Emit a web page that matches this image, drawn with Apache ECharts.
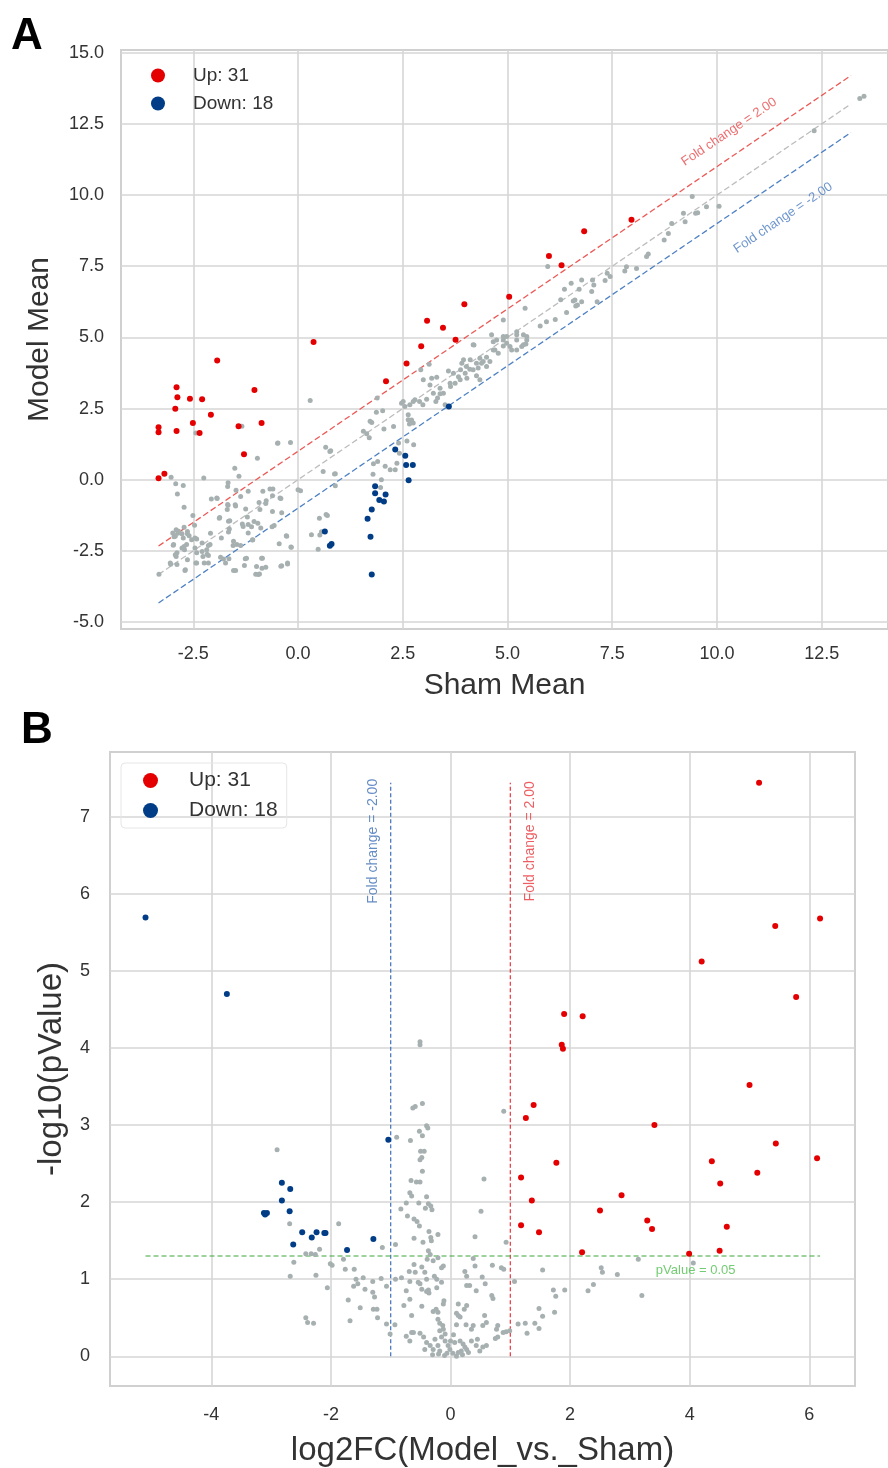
<!DOCTYPE html>
<html><head><meta charset="utf-8">
<script src="https://cdn.jsdelivr.net/npm/echarts@6/dist/echarts.min.js"></script>
<style>html,body{margin:0;padding:0;background:#fff}#c{width:888px;height:1468px}</style>
</head><body><div id="c"></div>
<script>
// ---------- Panel A: Sham Mean (x) vs Model Mean (y) ----------
const A_X_TICKS = [-2.5, 0, 2.5, 5, 7.5, 10, 12.5];
const A_Y_TICKS = [-5, -2.5, 0, 2.5, 5, 7.5, 10, 12.5, 15];
const A_UP = [[0.37,4.84],[-1.93,4.19],[-2.90,3.25],[-2.88,2.90],[-2.58,2.84],[-2.29,2.83],[-1.04,3.15],[-2.93,2.49],[-2.08,2.28],[-2.51,1.99],[-1.42,1.88],[-0.87,1.99],[-3.33,1.84],[-3.33,1.67],[-2.90,1.71],[-2.35,1.64],[-1.29,0.89],[-3.33,0.05],[-3.19,0.21],[2.59,4.08],[2.94,4.69],[2.10,3.46],[7.96,9.13],[6.83,8.73],[5.99,7.86],[6.29,7.53],[5.04,6.43],[3.97,6.16],[3.46,5.34],[3.76,4.92],[3.08,5.58]];
const A_DOWN = [[2.32,1.06],[2.56,0.84],[2.58,0.52],[2.74,0.52],[2.64,-0.02],[1.84,-0.23],[1.84,-0.48],[2.09,-0.52],[1.94,-0.71],[2.05,-0.77],[1.76,-1.05],[1.66,-1.37],[1.73,-2.0],[1.76,-3.33],[0.64,-1.82],[0.80,-2.26],[0.76,-2.32],[3.60,2.57]];
const A_NS = [[0.29,2.78],[-2.44,1.64],[-1.34,1.88],[-0.48,1.29],[-0.18,1.31],[-0.97,0.75],[0.66,1.14],[0.78,1.02],[-1.51,0.40],[-1.41,0.12],[-2.25,0.06],[-3.03,0.09],[-2.92,-0.14],[-2.74,-0.20],[-1.67,-0.11],[0.60,0.29],[0.89,0.21],[0,-0.35],[0.06,-0.39],[-0.60,-0.33],[-0.84,-0.41],[-1.19,-0.41],[-2.88,-0.50],[-2.07,-0.68],[-1.93,-0.66],[-1.37,-0.59],[-0.76,-0.74],[-0.93,-0.80],[-0.41,-0.66],[-1.67,-0.90],[-1.49,-0.92],[-2.72,-0.97],[-1.25,-1.03],[-0.61,-1.12],[-2.51,-1.26],[-1.87,-1.33],[-1.63,-1.44],[-1.05,-1.47],[-2.47,-1.60],[-2.72,-1.67],[-1.31,-1.64],[-1.19,-1.57],[-0.57,-1.61],[-2.91,-1.76],[-2.87,-1.88],[-2.96,-2.0],[-2.64,-1.82],[-2.60,-1.97],[-2.42,-2.08],[-2.09,-1.88],[-1.66,-1.84],[-1.83,-2.05],[-1.09,-2.12],[-0.28,-1.97],[0.56,-1.83],[-2.98,-2.30],[-2.72,-2.35],[-2.29,-2.52],[-2.14,-2.31],[-1.55,-2.31],[-1.37,-2.31],[-0.45,-2.25],[-0.16,-2.37],[0.48,-2.44],[-2.93,-2.64],[-2.91,-2.70],[-2.27,-2.70],[-1.85,-2.72],[-1.65,-2.78],[-1.73,-2.93],[-1.78,-2.79],[-2.17,-2.62],[-1.23,-2.76],[-0.85,-2.76],[-3.04,-2.97],[-2.44,-2.93],[-2.14,-2.93],[-0.99,-3.05],[-0.77,-3.08],[-0.39,-3.02],[-0.25,-2.96],[-1.54,-3.19],[-1.49,-3.19],[-2.70,-3.19],[-3.32,-3.32],[-1.01,-3.32],[-0.92,-3.31],
[-2.99,-1.87],[-2.93,-1.99],[-2.85,-1.81],[-2.77,-1.90],[-2.74,-2.05],[-2.64,-1.90],[-2.54,-2.11],[-2.46,-2.05],[-2.66,-2.28],[-2.77,-2.40],[-2.97,-2.28],[-2.89,-2.57],[-2.71,-2.46],[-2.46,-2.40],[-2.64,-2.81],[-2.42,-2.57],[-2.29,-2.22],[-2.18,-2.46],[-2.14,-2.66],[-2.10,-2.28],[-2.24,-2.93],[-2.42,-2.93],[-2.69,-3.16],[-2.89,-2.98],[-3.05,-2.93],
[-1.94,-0.64],[-1.68,-0.87],[-1.69,-1.05],[-1.88,-1.35],[-1.66,-1.46],[-1.64,-1.73],[-1.54,-2.16],[-1.46,-2.28],[-1.26,-2.78],[-1.28,-3.01],[-0.95,-3.33],[-0.86,-3.11],[-0.87,-2.76],[-0.67,-0.33],[-0.61,-0.56],[-0.43,-0.64],[-0.77,-0.84],[-0.39,-1.16],[-0.62,-1.65],[-0.96,-1.53],[-0.89,-1.70],[-0.91,-1.05],[-1.19,-1.87],[-1.08,-2.11],[-1.11,-1.65],[-1.33,-1.56],[-1.50,-0.88],[-1.21,-1.31],[-0.25,-2.93],[-0.41,-3.04],[-0.17,-2.36],[-0.27,-1.99],[-0.49,1.28],[-1.68,-0.24],[-1.48,-0.37],
[0.89,-0.21],[0.67,-1.22],[0.70,-1.26],[0.51,-1.35],[0.32,-1.93],[0.52,-1.94],[0.76,0.99],[0.87,0.20],[1.56,1.70],[1.64,1.61],[1.70,1.47],[1.76,2.01],[1.72,2.05],[1.87,2.37],[2.02,2.42],[1.89,2.87],[2.05,1.78],[2.28,1.87],[2.40,1.29],[2.60,1.36],[2.76,1.23],[1.80,0.56],[1.90,0.64],[2.08,0.47],[2.20,0.35],[2.32,0.35],[2.36,0.58],[1.79,0.19],[1.99,0.00],[1.97,-0.27],[2.42,0.93],
[2.47,2.69],[2.55,2.57],[2.67,2.63],[2.75,2.75],[2.63,2.28],[2.71,2.10],[2.66,1.96],[2.90,2.75],[2.98,2.63],[3.07,2.83],[2.93,3.86],[2.99,3.51],[3.13,4.06],[3.23,3.04],[3.33,2.87],[3.39,3.02],[3.29,2.75],[3.31,3.60],[3.59,3.82],[3.51,2.63],[3.64,3.27],[3.75,3.39],[3.83,3.62],[3.88,3.86],[3.95,4.21],[4.03,3.56],[4.10,3.88],[4.18,3.86],[4.26,3.65],[4.30,3.92],[4.20,4.73],[4.38,4.09],[4.50,4.30],[4.66,4.85],[4.70,4.56],[4.74,4.91],[4.90,4.70],[4.78,4.44],[4.98,4.79],[5.10,4.56],[5.22,4.91],[5.34,4.68],[5.22,5.20],[5.38,5.09],[5.46,4.91],[4.90,5.61],[5.42,6.02],
[2.51,2.75],[2.79,2.81],[2.63,2.11],[2.75,1.99],[3.19,3.56],[3.15,3.33],[3.39,3.21],[3.47,3.04],[3.63,3.39],[3.71,3.74],[3.87,3.51],[3.99,3.74],[3.91,4.09],[4.18,4.74],[4.02,3.98],[4.34,3.51],[4.26,4.09],[4.42,4.15],[4.50,3.98],[4.66,4.56],[4.90,4.91],[4.98,5.03],[5.06,4.68],[5.22,5.09],[5.38,4.74],[5.46,5.03],
[4.62,5.09],[4.90,5.03],[5.44,4.77],[5.22,4.56],[5.78,5.40],[5.93,5.55],[6.14,5.63],[6.41,5.87],[6.63,6.10],[6.77,6.25],[6.61,6.31],[4.11,4.21],[4.34,4.27],[4.58,4.15],
[13.41,13.39],[13.51,13.47],[12.32,12.26],[9.41,9.95],[9.49,9.36],[9.54,9.38],[9.75,9.59],[10.05,9.61],[9.20,9.36],[9.24,9.06],[8.92,9.00],[8.84,8.65],[8.74,8.42],[8.32,7.84],[8.36,7.93],[8.08,7.42],[7.80,7.33],[7.84,7.48],[7.38,7.25],[7.45,7.14],[7.33,7.00],[5.96,7.49],[7.03,7.02],[7.06,6.84],[7.01,6.61],[6.77,7.02],[6.71,6.69],[6.52,6.90],[6.36,6.69],[6.57,6.28],[6.67,6.14],[6.27,6.32],[7.14,6.25]];
const A_LINE_X = [-3.33, 13.2];           // extent of the reference lines (Sham Mean)
const A_LINE_OFFSETS = [1, 0, -1];        // log2(fold change) = 1, 0, -1
const A_LABELS = [["Fold change = 2.00", 10.29, 12.22], ["Fold change = -2.00", 11.58, 9.20]];

// ---------- Panel B: volcano ----------
const B_X_TICKS = [-4, -2, 0, 2, 4, 6];
const B_Y_TICKS = [0, 1, 2, 3, 4, 5, 6, 7];
const B_UP = [[5.16,7.44],[6.18,5.68],[5.43,5.58],[4.20,5.12],[5.78,4.66],[1.90,4.44],[2.21,4.41],[1.86,4.04],[1.88,3.99],[5.0,3.52],[1.39,3.26],[1.26,3.09],[3.41,3.0],[5.44,2.76],[6.13,2.57],[4.37,2.53],[1.77,2.51],[5.13,2.38],[1.18,2.32],[4.51,2.24],[2.86,2.09],[1.36,2.02],[2.50,1.89],[3.29,1.76],[3.37,1.65],[4.62,1.68],[1.18,1.70],[1.48,1.61],[2.20,1.35],[3.99,1.33],[4.50,1.37]];
const B_DOWN = [[-5.10,5.69],[-3.74,4.70],[-1.04,2.81],[-2.82,2.25],[-2.68,2.17],[-2.82,2.02],[-3.12,1.86],[-3.07,1.86],[-3.10,1.84],[-2.69,1.88],[-2.48,1.61],[-2.24,1.61],[-2.32,1.54],[-2.11,1.60],[-2.09,1.60],[-2.63,1.45],[-1.73,1.38],[-1.29,1.52]];
const B_NS = [[-0.51,4.08],[-0.51,4.04],[-0.63,3.22],[-0.59,3.24],[-0.47,3.28],[0.89,3.18],[-0.90,2.84],[-0.67,2.80],[-0.52,2.92],[-0.47,2.86],[-0.40,2.99],[-0.38,2.96],[-0.50,2.66],[-0.44,2.66],[-0.51,2.55],[-0.48,2.58],[-0.47,2.40],[-0.66,2.28],[-0.57,2.26],[-0.51,2.26],[0.56,2.30],[-0.68,2.12],[-0.65,2.08],[-0.40,2.07],[-0.74,1.99],[-0.53,1.99],[-0.37,1.98],[-0.33,1.95],[-0.31,1.90],[-0.83,1.91],[-0.42,1.92],[0.51,1.88],[-0.72,1.82],[-0.61,1.78],[-0.56,1.75],[-0.52,1.69],[-1.87,1.72],[-0.36,1.62],[-0.21,1.58],[-0.92,1.45],[-0.61,1.53],[-0.46,1.48],[-0.33,1.54],[-0.32,1.50],[0.41,1.55],[0.93,1.48],[-1.14,1.41],[-0.37,1.37],[-0.34,1.32],[-0.39,1.26],[-0.29,1.24],[-0.21,1.28],[-0.12,1.17],[-0.15,1.15],[0.38,1.27],[0.41,1.17],[0.70,1.18],[0.85,1.15],[0.89,1.13],[1.54,1.12],[-0.61,1.19],[-0.59,1.09],[-0.69,1.10],[-0.48,1.16],[-0.43,1.09],[0.24,1.10],[0.27,1.04],[0.53,1.03],[0.58,0.94],[1.07,0.97],
[-1.98,1.18],[-1.79,1.26],[-1.76,1.13],[-1.61,1.13],[-1.58,1.0],[-1.46,1.02],[-1.16,1.01],[-0.82,1.02],[-0.92,1.0],[-0.68,0.97],[-0.54,0.96],[-0.51,0.94],[-0.40,1.0],[-1.62,0.91],[-1.55,0.94],[-1.43,0.87],[-1.30,0.97],[-1.30,0.83],[-1.27,0.77],[-1.07,0.91],[-0.27,1.04],[-0.23,1.0],[-0.23,0.89],[-0.15,0.96],[-0.37,0.86],[-0.36,0.82],[-0.40,0.84],[0.27,0.92],[0.32,0.92],[0.43,0.85],[0.71,0.75],[0.69,0.79],[1.72,0.86],[1.91,0.86],[1.76,0.78],
[-0.74,0.85],[-0.48,0.87],[-0.68,0.74],[-0.11,0.72],[-0.12,0.68],[-0.24,0.61],[-0.21,0.57],[-0.29,0.58],[0.13,0.68],[0.23,0.61],[0.27,0.66],[-1.71,0.73],[-1.51,0.63],[-1.23,0.61],[-1.29,0.61],[-0.78,0.66],[-0.48,0.65],[-1.68,0.46],[-1.22,0.50],[-0.65,0.53],[-0.21,0.48],[-0.18,0.43],[-0.13,0.40],[-0.12,0.35],[-0.18,0.33],[-0.09,0.29],[0.10,0.56],[0.13,0.53],[0.16,0.51],[0.57,0.53],[0.60,0.44],[1.48,0.62],[1.54,0.52],[1.74,0.57],[1.48,0.36],[1.13,0.42],[1.25,0.43],[1.41,0.43],[1.28,0.30],
[0.38,0.40],[0.35,0.35],[0.26,0.41],[0.10,0.41],[0.54,0.40],[0.77,0.35],[0.79,0.40],[0.88,0.31],[0.93,0.32],[0.99,0.33],[0.75,0.23],[0.79,0.25],[-1.07,0.42],[-0.93,0.41],[-1.01,0.29],[-0.74,0.26],[-0.65,0.31],[-0.68,0.20],[-0.62,0.31],[-0.51,0.30],
[-0.40,0.18],[-0.34,0.14],[-0.43,0.09],[-0.29,0.09],[-0.21,0.14],[-0.18,0.07],[-0.26,0.22],[-0.09,0.20],[-0.04,0.14],[-0.06,0.04],[0.04,0.04],[-0.01,0.09],[0.07,0.18],[0.16,0.20],[0.21,0.16],[0.27,0.09],[0.18,0.07],[0.24,0.12],[0.13,0.05],[0.43,0.14],[0.54,0.12],[0.60,0.14],[0.49,0.07],[-0.30,0.02],[-0.20,0.03],[0.10,0.00],[0.20,0.02],[0.30,0.05],[-0.10,0.01],[0.00,0.20],[-0.15,0.25],[0.05,0.28],[0.35,0.20],[-0.45,0.25],[0.45,0.22],
[-2.90,2.68],[-2.69,1.72],[-2.19,1.39],[-2.42,1.33],[-2.33,1.33],[-2.26,1.32],[-2.62,1.22],[-2.68,1.04],[-2.25,1.05],[-2.06,0.89],[-2.42,0.50],[-2.39,0.44],[-2.29,0.43],[-2.01,1.20],
[3.14,1.26],[2.52,1.15],[2.54,1.09],[2.79,1.06],[2.39,0.93],[2.30,0.85],[3.20,0.79],[4.06,1.21]];
const B_FC_LINES = [-1, 1];              // log2(FC) thresholds
const B_P_LINE = -Math.log10(0.05);      // pValue = 0.05
const B_LABELS = [["Fold change = -2.00", -1.30, 6.68, '#3d6fb5'], ["Fold change = 2.00", 1.33, 6.68, '#e8343a']];
const B_P_LABEL = ["pValue = 0.05", 4.10, 1.12];

// ---------- styles ----------
const FONT = 'Liberation Sans, Arial, Helvetica, sans-serif';
const C_UP = '#e40000', C_DOWN = '#003d86', C_NS = '#a7b0b0';
const GRID_LINE = '#d6d6d6';

const bAll = [B_UP, B_DOWN, B_NS].flat();
const bYmin = Math.min(...bAll.map(p => p[1])), bYmax = Math.max(...bAll.map(p => p[1]));
const bXmin = Math.min(...bAll.map(p => p[0])), bXmax = Math.max(...bAll.map(p => p[0]));

function axisCommon(ticks, fmt, fs, margin) {
  return {
    type: 'value',
    axisLine: { show: false },
    axisTick: { show: false, customValues: ticks },
    axisLabel: { customValues: ticks, formatter: fmt, fontSize: fs, color: '#333', margin: margin, fontFamily: FONT },
    splitLine: { show: true, lineStyle: { color: GRID_LINE, width: 1.6 } },
    nameLocation: 'middle',
  };
}
const fmt1 = v => v.toFixed(1);
const fmt0 = v => String(Math.round(v));

const series = [];
function pts(name, xi, data, size, color, z) {
  return { type: 'scatter', name: name, xAxisIndex: xi, yAxisIndex: xi, data: data, symbolSize: size,
    itemStyle: { color: color, opacity: 1 }, z: z, silent: true };
}
// Panel A points
series.push(pts('ns', 0, A_NS, 5, C_NS, 3));
series.push(pts('Up: 31', 0, A_UP, 6, C_UP, 4));
series.push(pts('Down: 18', 0, A_DOWN, 6, C_DOWN, 4));
// Panel A reference lines
const A_LINE_COLORS = ['#ec5a57', '#bdbdbd', '#4f82c4'];
A_LINE_OFFSETS.forEach((off, i) => {
  series.push({ type: 'line', xAxisIndex: 0, yAxisIndex: 0, data: A_LINE_X.map(x => [x, x + off]), symbol: 'none', silent: true, z: 2,
    lineStyle: { color: A_LINE_COLORS[i], width: 1.3, type: [6, 3] } });
});
// Panel A line labels
A_LABELS.forEach((l, i) => {
  series.push({ type: 'scatter', xAxisIndex: 0, yAxisIndex: 0, data: [[l[1], l[2]]], symbolSize: 0, silent: true, z: 5,
    label: { show: true, position: 'inside', formatter: l[0], rotate: 34, fontSize: 13, fontFamily: FONT, color: i === 0 ? '#e8494a' : '#4a7cc0' } });
});
// Panel B points
series.push(pts('ns', 1, B_NS, 5, C_NS, 3));
series.push(pts('Up: 31', 1, B_UP, 6, C_UP, 4));
series.push(pts('Down: 18', 1, B_DOWN, 6, C_DOWN, 4));
// Panel B threshold lines
const B_FC_COLORS = ['#3d6fb5', '#e8343a'];
B_FC_LINES.forEach((x, i) => {
  series.push({ type: 'line', xAxisIndex: 1, yAxisIndex: 1, data: [[x, bYmin], [x, bYmax]], symbol: 'none', silent: true, z: 2,
    lineStyle: { color: B_FC_COLORS[i], width: 1.2, type: [4, 2.5] } });
});
series.push({ type: 'line', xAxisIndex: 1, yAxisIndex: 1, data: [[bXmin, B_P_LINE], [bXmax, B_P_LINE]], symbol: 'none', silent: true, z: 2,
  lineStyle: { color: '#3aa53a', width: 1.2, type: [5, 3] } });
B_LABELS.forEach(l => {
  series.push({ type: 'scatter', xAxisIndex: 1, yAxisIndex: 1, data: [[l[1], l[2]]], symbolSize: 0, silent: true, z: 5,
    label: { show: true, position: 'inside', formatter: l[0], rotate: 90, fontSize: 14, fontFamily: FONT, color: l[3] } });
});
series.push({ type: 'scatter', xAxisIndex: 1, yAxisIndex: 1, data: [[B_P_LABEL[1], B_P_LABEL[2]]], symbolSize: 0, silent: true, z: 5,
  label: { show: true, position: 'inside', formatter: B_P_LABEL[0], fontSize: 13, fontFamily: FONT, color: '#4fbf4f' } });

const option = {
  backgroundColor: '#ffffff',
  animation: false,
  textStyle: { fontFamily: FONT },
  title: [
    { text: 'A', left: 6, top: 10, textStyle: { fontSize: 44, fontWeight: 'bold', color: '#000', fontFamily: FONT } },
    { text: 'B', left: 16, top: 704, textStyle: { fontSize: 44, fontWeight: 'bold', color: '#000', fontFamily: FONT } }
  ],
  legend: [
    { data: ['Up: 31', 'Down: 18'], orient: 'vertical', left: 151, top: 66, padding: 0, itemWidth: 14, itemHeight: 14, itemGap: 9, icon: 'circle',
      textStyle: { fontSize: 19, color: '#333', fontFamily: FONT, padding: [0, 0, 0, 23] }, selectedMode: false },
    { data: ['Up: 31', 'Down: 18'], orient: 'vertical', left: 121, top: 763, padding: [7, 9, 7, 22], itemWidth: 15, itemHeight: 15, itemGap: 9, icon: 'circle',
      borderColor: '#e6e6e6', borderWidth: 1, borderRadius: 4,
      textStyle: { fontSize: 21, color: '#333', fontFamily: FONT, padding: [0, 0, 0, 26] }, selectedMode: false }
  ],
  grid: [
    { left: 121, top: 50, width: 767, height: 579, show: true, borderColor: '#d0d0d0', borderWidth: 2, backgroundColor: '#fff' },
    { left: 110, top: 752, width: 745, height: 635, show: true, borderColor: '#d0d0d0', borderWidth: 2, backgroundColor: '#fff' }
  ],
  xAxis: [
    Object.assign(axisCommon(A_X_TICKS, fmt1, 18, 16), { gridIndex: 0, min: -4.226, max: 14.083, name: 'Sham Mean', nameGap: 42,
      nameTextStyle: { fontSize: 30, color: '#333', fontFamily: FONT } }),
    Object.assign(axisCommon(B_X_TICKS, fmt0, 18, 20), { gridIndex: 1, min: -5.694, max: 6.764, name: 'log2FC(Model_vs._Sham)', nameGap: 48,
      nameTextStyle: { fontSize: 33, color: '#333', fontFamily: FONT } })
  ],
  yAxis: [
    Object.assign(axisCommon(A_Y_TICKS, fmt1, 18, 17), { gridIndex: 0, min: -5.245, max: 15.096, name: 'Model Mean', nameGap: 66,
      nameTextStyle: { fontSize: 30, color: '#333', fontFamily: FONT } }),
    Object.assign(axisCommon(B_Y_TICKS, fmt0, 18, 20), { gridIndex: 1, min: -0.385, max: 7.838, name: '-log10(pValue)', nameGap: 42,
      nameTextStyle: { fontSize: 33, color: '#333', fontFamily: FONT } })
  ],
  series: series
};
const chart = echarts.init(document.getElementById('c'), null, { renderer: 'canvas' });
chart.setOption(option);
</script></body></html>
